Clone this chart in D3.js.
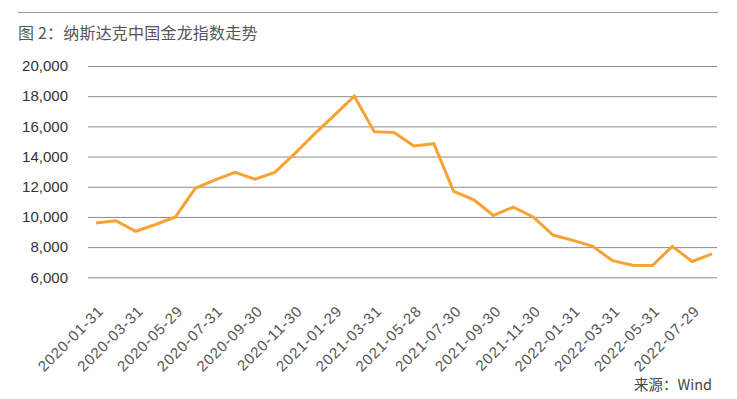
<!DOCTYPE html>
<html>
<head>
<meta charset="utf-8">
<script src="https://cdn.jsdelivr.net/npm/d3@7"></script>
<style>
  body { margin: 0; background: #fff; }
  svg { display: block; font-family: "Liberation Sans", Arial, "Noto Sans CJK SC", sans-serif; }
</style>
</head>
<body>
<svg class="line-chart"></svg>
<script>
// month-end dates, Jan 2020 - Aug 2022
var dates = ['2020-01-31','2020-02-28','2020-03-31','2020-04-30','2020-05-29','2020-06-30',
  '2020-07-31','2020-08-31','2020-09-30','2020-10-30','2020-11-30','2020-12-31',
  '2021-01-29','2021-02-26','2021-03-31','2021-04-30','2021-05-28','2021-06-30',
  '2021-07-30','2021-08-31','2021-09-30','2021-10-29','2021-11-30','2021-12-31',
  '2022-01-31','2022-02-28','2022-03-31','2022-04-29','2022-05-31','2022-06-30',
  '2022-07-29','2022-08-31'];

// 纳斯达克中国金龙指数
var values = [9600, 9750, 9050, 9500, 10000, 11900,
  12450, 12950, 12500, 12950, 14200, 15500,
  16750, 18000, 15650, 15600, 14700, 14850,
  11700, 11150, 10100, 10650, 10000, 8800,
  8450, 8050, 7100, 6800, 6780, 8050,
  7050, 7550];

var xTickLabels = ['2020-01-31','2020-03-31','2020-05-29','2020-07-31','2020-09-30','2020-11-30',
  '2021-01-29','2021-03-31','2021-05-28','2021-07-30','2021-09-30','2021-11-30',
  '2022-01-31','2022-03-31','2022-05-31','2022-07-29'];

var yTicks = [6000, 8000, 10000, 12000, 14000, 16000, 18000, 20000];

var titleText = '图 2：纳斯达克中国金龙指数走势';
var sourceText = '来源：Wind';

drawChart();

function drawChart() {
  var svgWidth = 737, svgHeight = 399;
  var gridLeft = 88, gridRight = 717;

  var svg = d3.select('svg.line-chart')
      .attr('width', svgWidth)
      .attr('height', svgHeight);

  // rule above the title
  svg.append('line')
      .attr('x1', 18).attr('x2', gridRight + 1)
      .attr('y1', 12.5).attr('y2', 12.5)
      .attr('stroke', '#9a9a9a')
      .attr('stroke-width', 1);

  svg.append('text')
      .attr('x', 18)
      .attr('y', 39)
      .attr('fill', '#555')
      .style('font-family', '"Noto Sans CJK SC", sans-serif')
      .style('font-size', '16px')
      .style('letter-spacing', '0.2px')
      .text(titleText);

  var x = d3.scalePoint()
      .domain(dates)
      .range([96, 712]);

  var y = d3.scaleLinear()
      .domain([6000, 20000])
      .range([277.3, 66]);

  var yAxis = svg.append('g')
      .attr('transform', 'translate(' + gridLeft + ',0)')
      .call(d3.axisLeft(y)
        .tickValues(yTicks)
        .tickSize(-(gridRight - gridLeft))
        .tickPadding(20)
        .tickFormat(d3.format(',')));
  yAxis.select('.domain').remove();
  yAxis.selectAll('.tick line')
      .attr('stroke', '#8c8c8c');
  yAxis.selectAll('.tick text')
      .attr('fill', '#333')
      .style('font-size', '15px')
      .style('font-family', '"Liberation Sans", Arial, sans-serif');

  var xAxis = svg.append('g')
      .attr('transform', 'translate(0,311)')
      .call(d3.axisBottom(x)
        .tickValues(xTickLabels)
        .tickSize(0));
  xAxis.select('.domain').remove();
  xAxis.selectAll('.tick text')
      .attr('x', 0)
      .attr('y', 0)
      .attr('dy', 0)
      .attr('transform', 'translate(8,1) rotate(-45)')
      .attr('text-anchor', 'end')
      .attr('fill', '#555')
      .style('font-size', '15px')
      .style('letter-spacing', '0.9px')
      .style('font-family', '"Liberation Sans", Arial, sans-serif');

  var line = d3.line()
      .x(function(d, i) { return x(dates[i]); })
      .y(function(d) { return y(d); });

  svg.append('path')
      .datum(values)
      .attr('fill', 'none')
      .attr('stroke', '#f8a234')
      .attr('stroke-width', 3)
      .attr('stroke-linejoin', 'miter')
      .attr('d', line);

  svg.append('text')
      .attr('x', 712)
      .attr('y', 390)
      .attr('text-anchor', 'end')
      .attr('fill', '#444')
      .style('font-family', '"Noto Sans CJK SC", sans-serif')
      .style('font-size', '14.5px')
      .text(sourceText);
}
</script>
</body>
</html>
